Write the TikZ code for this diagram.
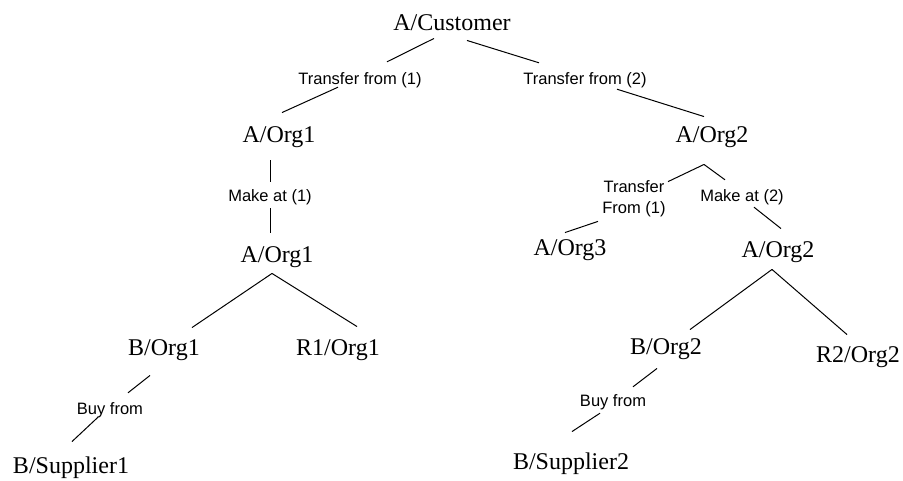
\documentclass[tikz,border=0pt]{standalone}
\usepackage{fontspec}
\setmainfont{Liberation Serif}
\setsansfont{Liberation Sans}
\usepackage{tikz}

\begin{document}
\begin{tikzpicture}[x=1pt, y=-1pt]

    \tikzset{%
        orgNode/.style={inner sep=0pt, text height=15.5pt, text depth=0pt,
                font=\fontsize{24}{27}\selectfont},
        relFont/.style={inner sep=0pt, font=\sffamily\fontsize{16.5}{21}\selectfont},
        relLabel/.style={relFont, text height=12pt, text depth=0pt},
        treeLine/.style={line width=1pt},
    }

    \useasboundingbox (0, 0) rectangle (903, 480);

    % left branch
    \node [orgNode] (cust) at (452, 23) {A/Customer};
    \node [relLabel] (tfOne) at (360, 78) {Transfer from (1)};
    \node [orgNode] (orgOneA) at (279, 135) {A/Org1};
    \node [relLabel] (makeOne) at (270, 195) {Make at (1)};
    \node [orgNode] (orgOneB) at (277, 255) {A/Org1};
    \node [orgNode] (bOrgOne) at (164, 348) {B/Org1};
    \node [orgNode] (rOrgOne) at (338, 348) {R1/Org1};
    \node [relLabel] (buyOne) at (110, 408) {Buy from};
    \node [orgNode] (supOne) at (71, 466) {B/Supplier1};

    % right branch
    \node [relLabel] (tfTwo) at (585, 78) {Transfer from (2)};
    \node [orgNode] (orgTwoA) at (712, 135) {A/Org2};
    \node [relFont, align=center] (tfThree) at (634, 199) {Transfer\\From (1)};
    \node [relLabel] (makeTwo) at (742, 195) {Make at (2)};
    \node [orgNode] (orgThree) at (570, 248) {A/Org3};
    \node [orgNode] (orgTwoB) at (778, 250) {A/Org2};
    \node [orgNode] (bOrgTwo) at (666, 347) {B/Org2};
    \node [orgNode] (rOrgTwo) at (858, 355) {R2/Org2};
    \node [relLabel] (buyTwo) at (613, 400) {Buy from};
    \node [orgNode] (supTwo) at (571, 462) {B/Supplier2};

    % connectors
    \draw [treeLine] ([shift={(-18, 7.5)}]cust.south) -- ([shift={(27, -10)}]tfOne.north);
    \draw [treeLine] ([shift={(15, 9.5)}]cust.south) -- ([shift={(-46, -9)}]tfTwo.north);
    \draw [treeLine] ([shift={(-22, 3)}]tfOne.south) -- ([shift={(3, -14.5)}]orgOneA.north);
    \draw [treeLine] ([shift={(32, 5)}]tfTwo.south) -- ([shift={(-8, -10.5)}]orgTwoA.north);
    \draw [treeLine] ([shift={(-9, 17.5)}]orgOneA.south) -- ([shift={(0, -7)}]makeOne.north);
    \draw [treeLine] ([shift={(0, 7)}]makeOne.south) -- ([shift={(-7, -14.5)}]orgOneB.north);
    \draw [treeLine] ([shift={(-5, 10.5)}]orgOneB.south) -- ([shift={(28, -12.5)}]bOrgOne.north);
    \draw [treeLine] ([shift={(-5, 10.5)}]orgOneB.south) -- ([shift={(19, -13.5)}]rOrgOne.north);
    \draw [treeLine] ([shift={(-14, 19.5)}]bOrgOne.south) -- ([shift={(18, -9)}]buyOne.north);
    \draw [treeLine] ([shift={(-12, 3)}]buyOne.south) -- ([shift={(1, -16.5)}]supOne.north);
    \draw [treeLine] ([shift={(-8, 21.5)}]orgTwoA.south) -- ([shift={(34, 1)}]tfThree.north);
    \draw [treeLine] ([shift={(-8, 21.5)}]orgTwoA.south) -- ([shift={(-17, -9)}]makeTwo.north);
    \draw [treeLine] ([shift={(-36, 4)}]tfThree.south) -- ([shift={(-5, -7.5)}]orgThree.north);
    \draw [treeLine] ([shift={(12, 6)}]makeTwo.south) -- ([shift={(3, -13.5)}]orgTwoB.north);
    \draw [treeLine] ([shift={(-6, 11.5)}]orgTwoB.south) -- ([shift={(24, -9.5)}]bOrgTwo.north);
    \draw [treeLine] ([shift={(-6, 11.5)}]orgTwoB.south) -- ([shift={(-11, -12.5)}]rOrgTwo.north);
    \draw [treeLine] ([shift={(-9, 13.5)}]bOrgTwo.south) -- ([shift={(20, -7)}]buyTwo.north);
    \draw [treeLine] ([shift={(-13, 7)}]buyTwo.south) -- ([shift={(1, -22.5)}]supTwo.north);

\end{tikzpicture}
\end{document}
